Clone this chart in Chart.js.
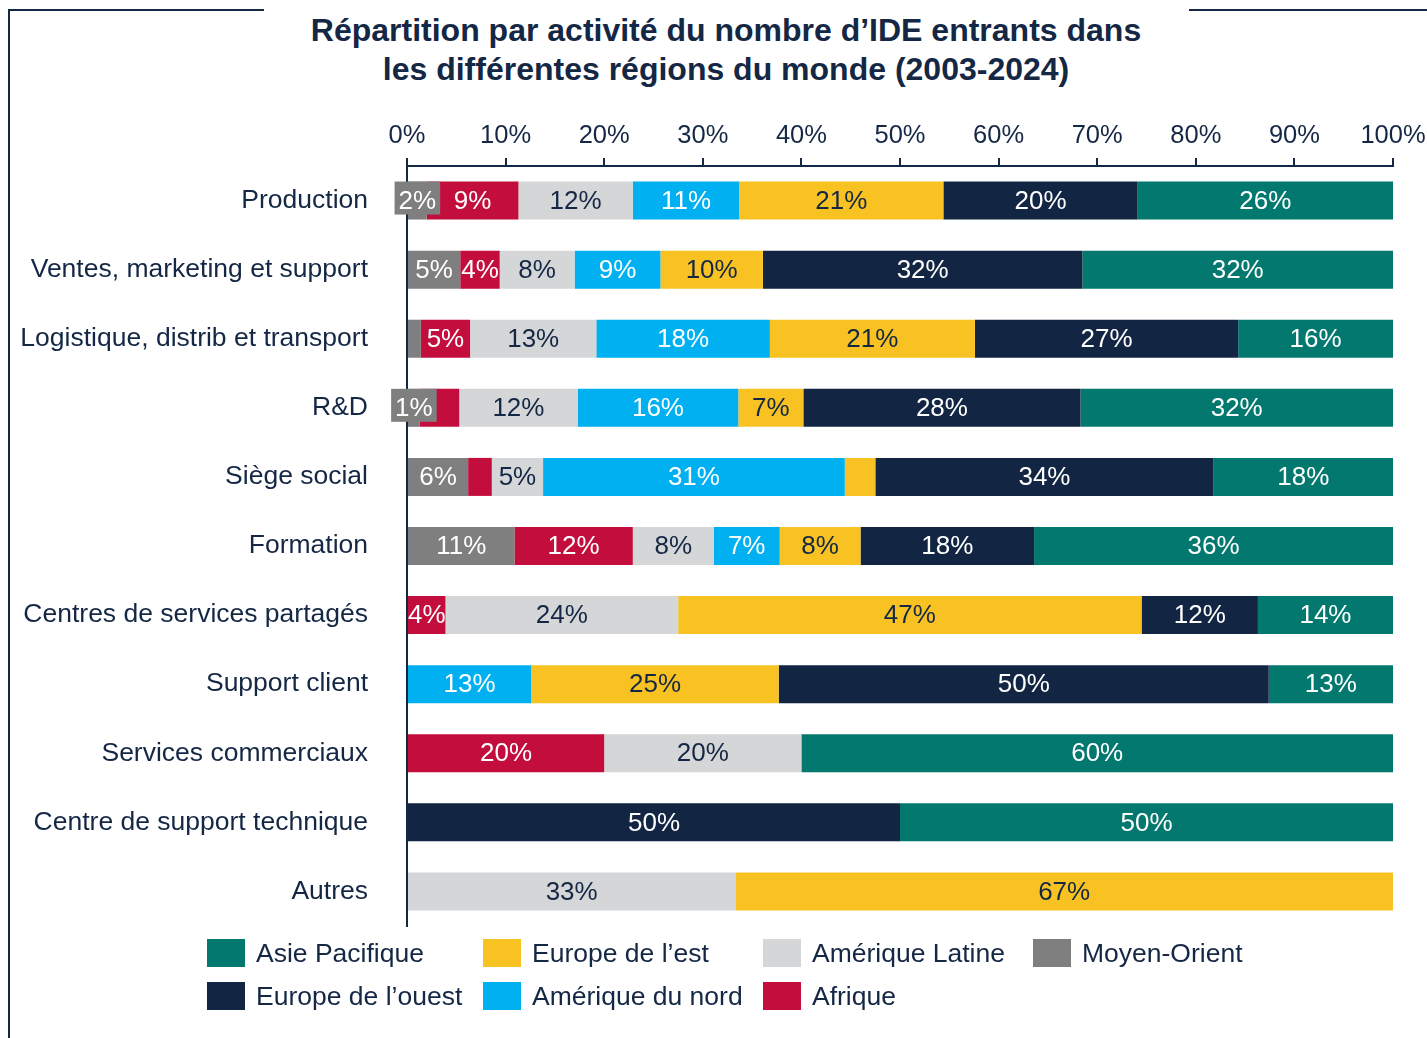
<!DOCTYPE html>
<html lang="fr">
<head>
<meta charset="utf-8">
<script src="https://cdn.jsdelivr.net/npm/chart.js@4/dist/chart.umd.min.js"></script>
<style>
  html, body { margin: 0; padding: 0; background: #fff; }
  #wrap { position: relative; width: 1427px; height: 1038px; overflow: hidden; font-family: "Liberation Sans", Arial, sans-serif; color: #142744; }
  #chart { position: absolute; left: 0; top: 0; }
  #title { position: absolute; left: 226px; width: 1000px; top: 11px; text-align: center; font-weight: bold; font-size: 32px; line-height: 39px; color: #142744; }
  .frame { position: absolute; background: #142744; }
  #legend { position: absolute; left: 0; top: 0; }
  .li { position: absolute; display: flex; align-items: center; font-size: 26.5px; color: #142744; white-space: nowrap; }
  .sw { width: 38px; height: 28px; margin-right: 11px; }
</style>
</head>
<body>
<div id="wrap">
  <div class="frame" style="left:8px; top:9px; width:2px; height:1029px;"></div>
  <div class="frame" style="left:8px; top:9px; width:256px; height:2px;"></div>
  <div class="frame" style="left:1189px; top:9px; width:238px; height:2px;"></div>
  <div id="title">Répartition par activité du nombre d’IDE entrants dans<br>les différentes régions du monde (2003-2024)</div>
  <canvas id="chart" width="1427" height="1038"></canvas>
  <div id="legend"></div>
</div>
<script>
const categories = [
  "Production",
  "Ventes, marketing et support",
  "Logistique, distrib et transport",
  "R&D",
  "Siège social",
  "Formation",
  "Centres de services partagés",
  "Support client",
  "Services commerciaux",
  "Centre de support technique",
  "Autres"
];
const xTickValues = [0, 10, 20, 30, 40, 50, 60, 70, 80, 90, 100];

// Values in % (left to right in each bar)
const moyenOrient    = [2.0, 5.4, 1.4, 1.3, 6.2, 10.9, 0, 0, 0, 0, 0];
const afrique        = [9.3, 4.0, 5.0, 4.0, 2.4, 12.0, 3.9, 0, 20, 0, 0];
const ameriqueLatine = [11.6, 7.6, 12.8, 12.0, 5.2, 8.2, 23.6, 0, 20, 0, 33.3];
const ameriqueNord   = [10.8, 8.7, 17.6, 16.3, 30.6, 6.7, 0, 12.6, 0, 0, 0];
const europeEst      = [20.7, 10.4, 20.8, 6.6, 3.1, 8.2, 47.0, 25.1, 0, 0, 66.7];
const europeOuest    = [19.7, 32.4, 26.7, 28.1, 34.3, 17.6, 11.8, 49.7, 0, 50, 0];
const asiePacifique  = [25.9, 31.5, 15.7, 31.7, 18.2, 36.4, 13.7, 12.6, 60, 50, 0];

// segments whose value label is not shown in the original: "category|series"
const hiddenLabels = [
  "Logistique, distrib et transport|Moyen-Orient",
  "R&D|Afrique",
  "Siège social|Afrique",
  "Siège social|Europe de l’est"
];

const NAVY_TEXT = "#142744";
const seriesDefs = [
  { label: "Moyen-Orient",      data: moyenOrient,    color: "#7F7F7F", text: "#FFFFFF" },
  { label: "Afrique",           data: afrique,        color: "#C30D3C", text: "#FFFFFF" },
  { label: "Amérique Latine",   data: ameriqueLatine, color: "#D5D6D8", text: NAVY_TEXT },
  { label: "Amérique du nord",  data: ameriqueNord,   color: "#00B0F0", text: "#FFFFFF" },
  { label: "Europe de l’est",   data: europeEst,      color: "#F8C322", text: NAVY_TEXT },
  { label: "Europe de l’ouest", data: europeOuest,    color: "#122644", text: "#FFFFFF" },
  { label: "Asie Pacifique",    data: asiePacifique,  color: "#03786F", text: "#FFFFFF" }
];

// Legend (column-major layout as in original)
const legendOrder = ["Asie Pacifique", "Europe de l’ouest", "Europe de l’est", "Amérique du nord", "Amérique Latine", "Afrique", "Moyen-Orient"];
const legendCols = [207, 483, 763, 1033];
const legendRows = [939, 982];
const legendEl = document.getElementById("legend");
legendOrder.forEach((name, i) => {
  const def = seriesDefs.find(s => s.label === name);
  const col = Math.floor(i / 2), row = i % 2;
  const div = document.createElement("div");
  div.className = "li";
  div.style.left = legendCols[col] + "px";
  div.style.top = legendRows[row] + "px";
  div.style.height = "28px";
  div.innerHTML = '<span class="sw" style="background:' + def.color + '"></span><span>' + name + '</span>';
  legendEl.appendChild(div);
});

const FONT = '"Liberation Sans", Arial, sans-serif';

const valueLabels = {
  id: "valueLabels",
  afterDatasetsDraw(chart) {
    const ctx = chart.ctx;
    ctx.save();
    ctx.font = "26px " + FONT;
    ctx.textAlign = "center";
    ctx.textBaseline = "middle";
    chart.data.datasets.forEach((ds, di) => {
      const meta = chart.getDatasetMeta(di);
      meta.data.forEach((el, i) => {
        const v = ds.data[i];
        if (!v) return;
        if (hiddenLabels.includes(categories[i] + "|" + ds.label)) return;
        const txt = Math.round(v) + "%";
        const cx = (el.x + el.base) / 2;
        const cy = el.y;
        const w = ctx.measureText(txt).width;
        const seg = Math.abs(el.x - el.base);
        if (w > seg + 3) {
          ctx.fillStyle = ds.backgroundColor;
          ctx.fillRect(cx - w / 2 - 4, cy - 19, w + 8, 33);
        }
        ctx.fillStyle = ds.textColor;
        ctx.fillText(txt, cx, cy + 1);
      });
    });
    ctx.restore();
  }
};

new Chart(document.getElementById("chart"), {
  type: "bar",
  data: {
    labels: categories,
    datasets: seriesDefs.map(s => ({
      label: s.label,
      data: s.data,
      backgroundColor: s.color,
      textColor: s.text,
      borderWidth: 0,
      barPercentage: 1.0,
      categoryPercentage: 0.55
    }))
  },
  options: {
    indexAxis: "y",
    responsive: false,
    animation: false,
    layout: { padding: { left: 0, right: 34, top: 0, bottom: 112 } },
    plugins: {
      legend: { display: false },
      tooltip: { enabled: false },
      title: { display: false }
    },
    scales: {
      x: {
        position: "top",
        stacked: true,
        min: 0,
        max: 100,
        afterBuildTicks(scale) { scale.ticks = xTickValues.map(v => ({ value: v })); },
        afterFit(scale) { scale.height = 166; scale.paddingLeft = 0; scale.paddingRight = 0; },
        grid: { display: true, drawOnChartArea: false, drawTicks: true, tickLength: 8, color: NAVY_TEXT, lineWidth: 2 },
        border: { display: true, color: NAVY_TEXT, width: 2 },
        ticks: {
          color: NAVY_TEXT,
          font: { family: FONT, size: 25.5 },
          padding: 7,
          maxRotation: 0,
          autoSkip: false,
          callback: v => v + "%"
        }
      },
      y: {
        stacked: true,
        afterFit(scale) { scale.width = 407; scale.paddingTop = 0; scale.paddingBottom = 0; },
        grid: { display: false, drawTicks: false },
        border: { display: true, color: NAVY_TEXT, width: 2 },
        ticks: {
          color: NAVY_TEXT,
          font: { family: FONT, size: 26.5 },
          padding: 39,
          autoSkip: false
        }
      }
    }
  },
  plugins: [valueLabels]
});
</script>
</body>
</html>
